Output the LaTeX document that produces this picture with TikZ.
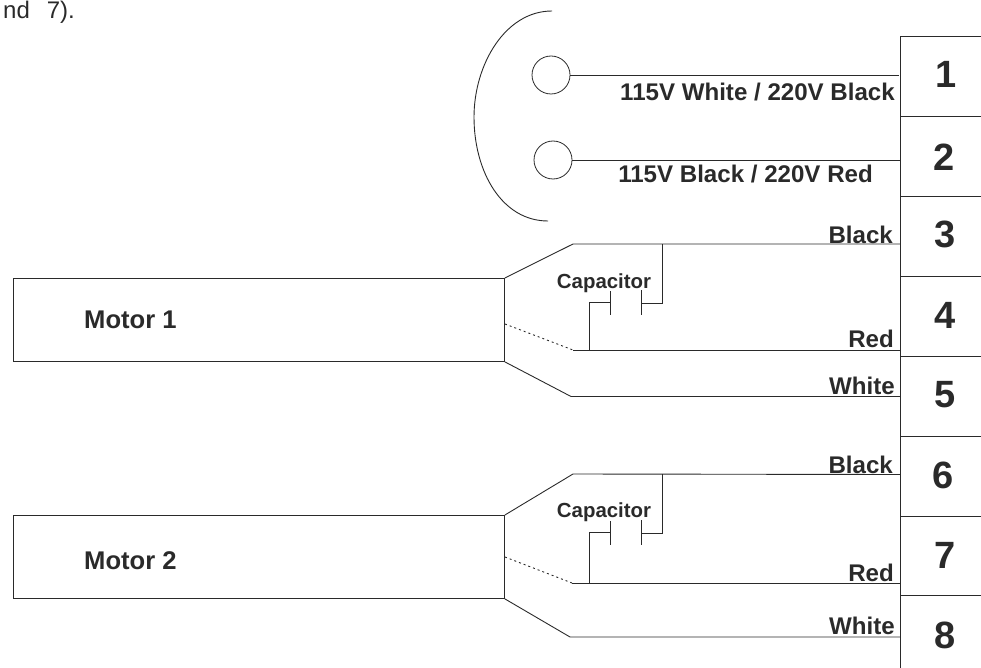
\documentclass[tikz,border=0pt]{standalone}
\usepackage{fontspec}
\setmainfont{Liberation Sans}
\definecolor{ink}{HTML}{2A2A2A}
\tikzset{
  wire/.style={draw=ink,line width=0.9pt},
  hidden/.style={draw=ink,line width=0.9pt,dash pattern=on 2pt off 3pt},
  pin/.style={circle,draw=ink,line width=0.8pt,minimum size=38pt,inner sep=0pt},
  num/.style={font=\bfseries\fontsize{38}{38}\selectfont,text=ink,inner sep=0pt},
  lab/.style={font=\bfseries\fontsize{24.1}{25}\selectfont,text=ink,inner sep=0pt,anchor=base east},
  captext/.style={font=\bfseries\fontsize{20.4}{21}\selectfont,text=ink,inner sep=0pt,anchor=base},
  mot/.style={font=\bfseries\fontsize{25.6}{26}\selectfont,text=ink,inner sep=0pt,anchor=base west},
  body/.style={draw=ink,line width=0.9pt,minimum width=491pt,minimum height=83pt,inner sep=0pt,anchor=north west},
}
\begin{document}
\begin{tikzpicture}[x=1pt,y=-1pt]
\useasboundingbox (0,0) rectangle (981,668);
\node[font=\fontsize{24}{24}\selectfont,text=ink,inner sep=0pt,anchor=base west] (intro) at (3,18.5) {nd\hspace{17pt}7).};

% terminal strip
\coordinate (ttop) at (900,36);
\coordinate (tbot) at (900,668);
\draw[wire] (981,36) -- (ttop) -- (tbot);
\foreach \y [count=\i] in {116,196,276,356,436,516,595}{
  \coordinate (s\i) at (900,\y);
  \coordinate (e\i) at (981,\y);
  \draw[wire] (s\i) -- (e\i);
}
\node[num] (n1) at (946,74) {1};
\node[num] (n2) at (944,157) {2};
\node[num] (n3) at (945,234) {3};
\node[num] (n4) at (945,315) {4};
\node[num] (n5) at (945,395) {5};
\node[num] (n6) at (943,475) {6};
\node[num] (n7) at (945,555) {7};
\node[num] (n8) at (945,635) {8};

% plug
\draw[wire] (552,11) .. controls (505,11) and (474,65) .. (474,117) .. controls (474,172) and (502,221) .. (548,221);
\node[pin] (p1) at (551,75) {};
\node[pin] (p2) at (553,160) {};
\coordinate (t1) at (899,75);
\coordinate (t2) at (900,160);
\draw[wire] (p1) -- (t1);
\draw[wire] (p2) -- (t2);
\node[lab] (l1) at (895,101) {115V White / 220V Black};
\node[lab] (l2) at (873,183) {115V Black / 220V Red};

% motor 1
\node[body] (m1) at (13,278) {};
\node[mot] (m1t) at (84,328.5) {Motor 1};
\coordinate (a1) at (573,244); \coordinate (a1e) at (900,244);
\coordinate (b1) at (573,350); \coordinate (b1e) at (900,350);
\coordinate (c1) at (571,396.5); \coordinate (c1e) at (900,396.5);
\coordinate (d1) at (505,324);
\coordinate (j1) at (589,350); \coordinate (k1) at (662,244);
\coordinate (q1) at (610,302.5); \coordinate (r1) at (641,303);
\draw[wire] (m1.north east) -- (a1) -- (a1e);
\draw[hidden] (d1) -- (b1);
\draw[wire] (b1) -- (b1e);
\draw[wire] (m1.south east) -- (c1) -- (c1e);
\draw[wire] (j1) |- (q1);
\draw[wire] (k1) |- (r1);
\draw[wire] (610,291) -- (q1) -- (610,315);
\draw[wire] (641,290) -- (r1) -- (641,315);
\node[captext] (cap1) at (604,288) {Capacitor};
\node[lab] (b1t) at (893,243) {Black};
\node[lab] (r1t) at (894,347) {Red};
\node[lab] (w1t) at (895,394) {White};

% motor 2
\node[body] (m2) at (13,515) {};
\node[mot] (m2t) at (84,569.5) {Motor 2};
\coordinate (a2) at (573,474); \coordinate (a2e) at (900,474.5);
\coordinate (b2) at (572,583); \coordinate (b2e) at (900,583);
\coordinate (c2) at (570,637); \coordinate (c2e) at (900,637);
\coordinate (d2) at (505,557);
\coordinate (j2) at (589,583); \coordinate (k2) at (662,474);
\coordinate (q2) at (610,532.5); \coordinate (r2) at (641,533);
\draw[wire] (m2.north east) -- (a2) -- (a2e);
\draw[hidden] (d2) -- (b2);
\draw[wire] (b2) -- (b2e);
\draw[wire] (m2.south east) -- (c2) -- (c2e);
\draw[wire] (j2) |- (q2);
\draw[wire] (k2) |- (r2);
\draw[wire] (610,521) -- (q2) -- (610,545);
\draw[wire] (641,520) -- (r2) -- (641,545);
\node[captext] (cap2) at (604,517) {Capacitor};
\node[lab] (b2t) at (893,473) {Black};
\node[lab] (r2t) at (894,581) {Red};
\node[lab] (w2t) at (895,634) {White};
\end{tikzpicture}
\end{document}
